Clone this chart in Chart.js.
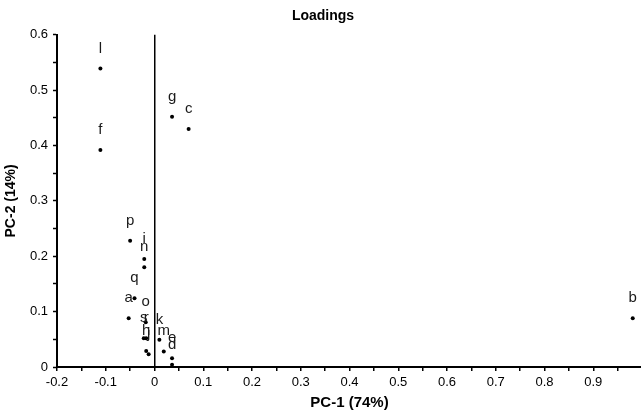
<!DOCTYPE html>
<html>
<head>
<meta charset="utf-8">
<script src="https://cdn.jsdelivr.net/npm/chart.js@4.4.0/dist/chart.umd.min.js"></script>
<style>
  html, body { margin: 0; padding: 0; background: #fff; overflow: hidden; }
  #wrap { width: 646px; height: 414px; }
</style>
</head>
<body>
<div id="wrap"><canvas id="chart" width="646" height="414"></canvas></div>
<script>
// variable names and their loadings on the first two components
const names = ['a', 'b', 'c', 'd', 'e', 'f', 'g', 'h', 'i', 'j', 'k', 'l', 'm', 'n', 'o', 'p', 'q', 'r', 's'];
const pc1 = [-0.053, 0.981, 0.070, 0.036, 0.036, -0.111, 0.036, -0.017, -0.021, -0.012, 0.010, -0.111, 0.019, -0.021, -0.018, -0.050, -0.041, -0.017, -0.022];
const pc2 = [0.088, 0.088, 0.430, 0.004, 0.016, 0.392, 0.452, 0.029, 0.195, 0.023, 0.049, 0.539, 0.028, 0.180, 0.081, 0.228, 0.124, 0.052, 0.052];

const xTitle = 'PC-1 (74%)';
const yTitle = 'PC-2 (14%)';
const chartTitle = 'Loadings';

const points = names.map((n, i) => ({ x: pc1[i], y: pc2[i], name: n }));

const FONT = "'Liberation Sans', Arial, sans-serif";

// write each variable name just above its dot
const pointLabels = {
    id: 'pointLabels',
    afterDatasetsDraw(chart) {
        const ctx = chart.ctx;
        const meta = chart.getDatasetMeta(0);
        ctx.save();
        ctx.font = '15px ' + FONT;
        ctx.fillStyle = '#1a1a1a';
        ctx.textAlign = 'center';
        ctx.textBaseline = 'alphabetic';
        meta.data.forEach((el, i) => {
            ctx.fillText(points[i].name, el.x, el.y - 16);
        });
        ctx.restore();
    }
};

function tenth(v) {
    const r = Math.round(v * 100);
    return r % 10 === 0;
}

new Chart(document.getElementById('chart'), {
    type: 'scatter',
    data: {
        datasets: [{
            data: points,
            pointRadius: 2,
            pointHoverRadius: 2,
            pointBackgroundColor: '#000',
            pointBorderWidth: 0
        }]
    },
    options: {
        responsive: false,
        animation: false,
        layout: { padding: { left: 0, right: 0, top: 0, bottom: 0 } },
        plugins: {
            legend: { display: false },
            tooltip: { enabled: false },
            title: {
                display: true,
                text: chartTitle,
                color: '#000',
                font: { family: FONT, size: 14, weight: 'bold' },
                padding: { top: 8, bottom: 10 }
            }
        },
        scales: {
            x: {
                type: 'linear',
                min: -0.2,
                max: 1.0,
                afterFit: (s) => { s.height = 47; },
                ticks: {
                    stepSize: 0.05,
                    autoSkip: false,
                    maxRotation: 0,
                    padding: 4,
                    color: '#000',
                    font: { family: FONT, size: 13 },
                    callback: (v) => (tenth(v) && v < 0.95) ? String(Math.round(v * 10) / 10) : ''
                },
                grid: {
                    color: (c) => (c.tick && Math.abs(c.tick.value) < 1e-9) ? '#000' : 'rgba(0,0,0,0)',
                    lineWidth: 1.5,
                    tickColor: '#000',
                    tickLength: 4,
                    tickWidth: 1.5
                },
                border: { color: '#000', width: 2 },
                title: {
                    display: true,
                    text: xTitle,
                    color: '#000',
                    font: { family: FONT, size: 15, weight: 'bold' },
                    padding: { top: 0, bottom: 2 }
                }
            },
            y: {
                type: 'linear',
                min: 0,
                max: 0.6,
                afterFit: (s) => { s.width = 57; },
                ticks: {
                    stepSize: 0.05,
                    autoSkip: false,
                    padding: 5,
                    color: '#000',
                    font: { family: FONT, size: 13 },
                    callback: (v) => tenth(v) ? String(Math.round(v * 10) / 10) : ''
                },
                grid: {
                    drawOnChartArea: false,
                    tickColor: '#000',
                    tickLength: 4,
                    tickWidth: 1.5
                },
                border: { color: '#000', width: 2 },
                title: {
                    display: true,
                    text: yTitle,
                    color: '#000',
                    font: { family: FONT, size: 14, weight: 'bold' },
                    padding: { top: 3, bottom: 0 }
                }
            }
        }
    },
    plugins: [pointLabels]
});
</script>
</body>
</html>
